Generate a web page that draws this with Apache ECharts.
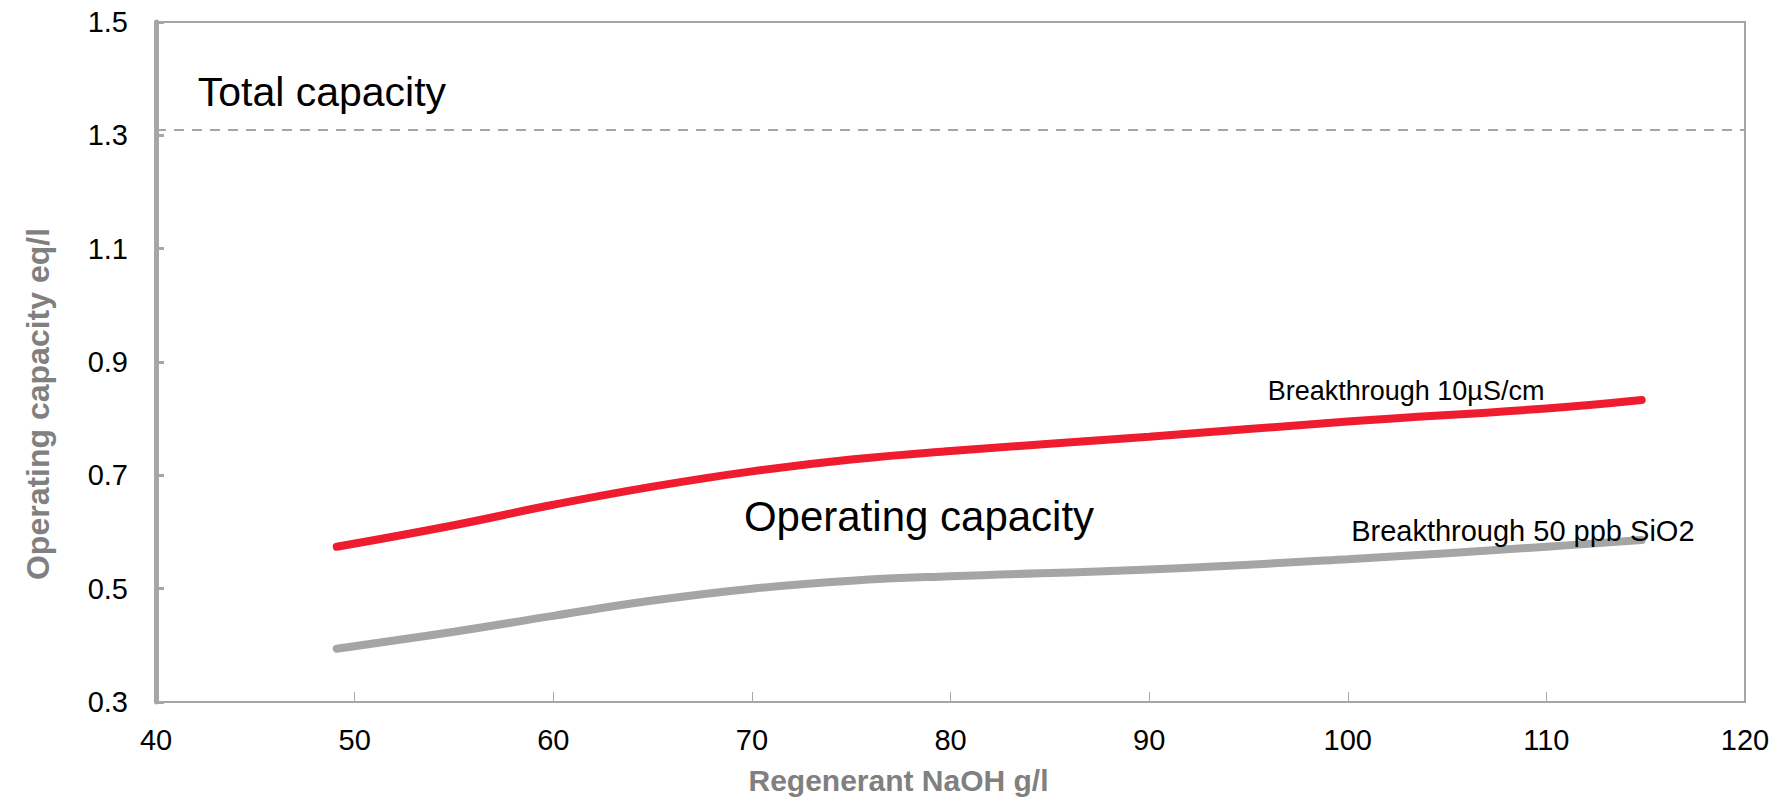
<!DOCTYPE html>
<html>
<head>
<meta charset="utf-8">
<script src="https://cdn.jsdelivr.net/npm/echarts@6/dist/echarts.min.js"></script>
<style>
html,body{margin:0;padding:0;background:#fff;}
#chart{width:1778px;height:806px;}
</style>
</head>
<body>
<div id="chart"></div>
<script>
// ---- data ----
const xTicks = [40, 50, 60, 70, 80, 90, 100, 110, 120];
const yTicks = [0.3, 0.5, 0.7, 0.9, 1.1, 1.3, 1.5];
const regenerant = [49.1, 55, 60, 65, 70, 75, 80, 90, 100, 110, 114.8];
const capacity10uS = [0.574, 0.612, 0.648, 0.680, 0.707, 0.728, 0.743, 0.768, 0.795, 0.818, 0.833];
const capacitySiO2 = [0.394, 0.424, 0.452, 0.479, 0.500, 0.514, 0.522, 0.534, 0.552, 0.574, 0.586];
const totalCapacity = 1.308;
const seriesNames = ['Breakthrough 10µS/cm', 'Breakthrough 50 ppb SiO2'];
const xAxisTitle = 'Regenerant NaOH g/l';
const yAxisTitle = 'Operating capacity eq/l';

const FONT = '"Liberation Sans", Arial, sans-serif';
const AXIS = '#a6a6a6';

function pairs(xs, ys) { return xs.map((x, i) => [x, ys[i]]); }

function annot(coord, text, size) {
  return {
    coord: coord,
    symbol: 'circle',
    symbolSize: 0,
    label: {
      show: true, position: 'right', distance: 0,
      formatter: text, color: '#000', fontSize: size, fontFamily: FONT
    }
  };
}

const chart = echarts.init(document.getElementById('chart'), null, {renderer: 'svg'});
chart.setOption({
  animation: false,
  backgroundColor: '#fff',
  grid: {
    left: 156, right: 33, top: 22, bottom: 104,
    show: true, borderColor: AXIS, borderWidth: 2, backgroundColor: 'transparent'
  },
  xAxis: {
    type: 'value',
    min: xTicks[0], max: xTicks[xTicks.length - 1],
    interval: xTicks[1] - xTicks[0],
    name: xAxisTitle,
    nameLocation: 'middle',
    nameGap: 63,
    nameTextStyle: {
      color: '#808080', fontSize: 30, fontWeight: 'bold', fontFamily: FONT,
      padding: [0, 104, 0, 0]
    },
    axisLine: {show: true, lineStyle: {color: AXIS, width: 2}},
    axisTick: {show: true, inside: true, length: 10, lineStyle: {color: AXIS, width: 1}},
    axisLabel: {color: '#000', fontSize: 29, fontFamily: FONT, margin: 23},
    splitLine: {show: false}
  },
  yAxis: {
    type: 'value',
    min: yTicks[0], max: yTicks[yTicks.length - 1],
    interval: +(yTicks[1] - yTicks[0]).toFixed(1),
    name: yAxisTitle,
    nameLocation: 'middle',
    nameRotate: 90,
    nameGap: 102,
    nameTextStyle: {
      color: '#808080', fontSize: 32, fontWeight: 'bold', fontFamily: FONT,
      padding: [0, 84, 0, 0]
    },
    axisLine: {show: true, lineStyle: {color: AXIS, width: 5}},
    axisTick: {show: true, inside: true, length: 8, lineStyle: {color: AXIS, width: 3}},
    axisLabel: {
      color: '#000', fontSize: 29, fontFamily: FONT, margin: 28,
      formatter: v => v.toFixed(1)
    },
    splitLine: {show: false}
  },
  series: [
    {
      name: seriesNames[0],
      type: 'line',
      data: pairs(regenerant, capacity10uS),
      smooth: 0.45,
      showSymbol: false,
      lineStyle: {color: '#ee1c2e', width: 8, cap: 'round'},
      z: 3,
      markLine: {
        silent: true,
        symbol: ['none', 'none'],
        label: {show: false},
        lineStyle: {color: AXIS, width: 2, type: [10, 8]},
        data: [{yAxis: totalCapacity}]
      },
      markPoint: {
        data: [
          annot([42.1, 1.376], 'Total capacity', 41),
          annot([69.6, 0.628], 'Operating capacity', 42),
          annot([95.97, 0.849], seriesNames[0], 27)
        ]
      }
    },
    {
      name: seriesNames[1],
      type: 'line',
      data: pairs(regenerant, capacitySiO2),
      smooth: 0.45,
      showSymbol: false,
      lineStyle: {color: '#a5a5a5', width: 8, cap: 'round'},
      z: 2,
      markPoint: {
        data: [annot([100.17, 0.602], seriesNames[1], 29)]
      }
    }
  ]
});
</script>
</body>
</html>
